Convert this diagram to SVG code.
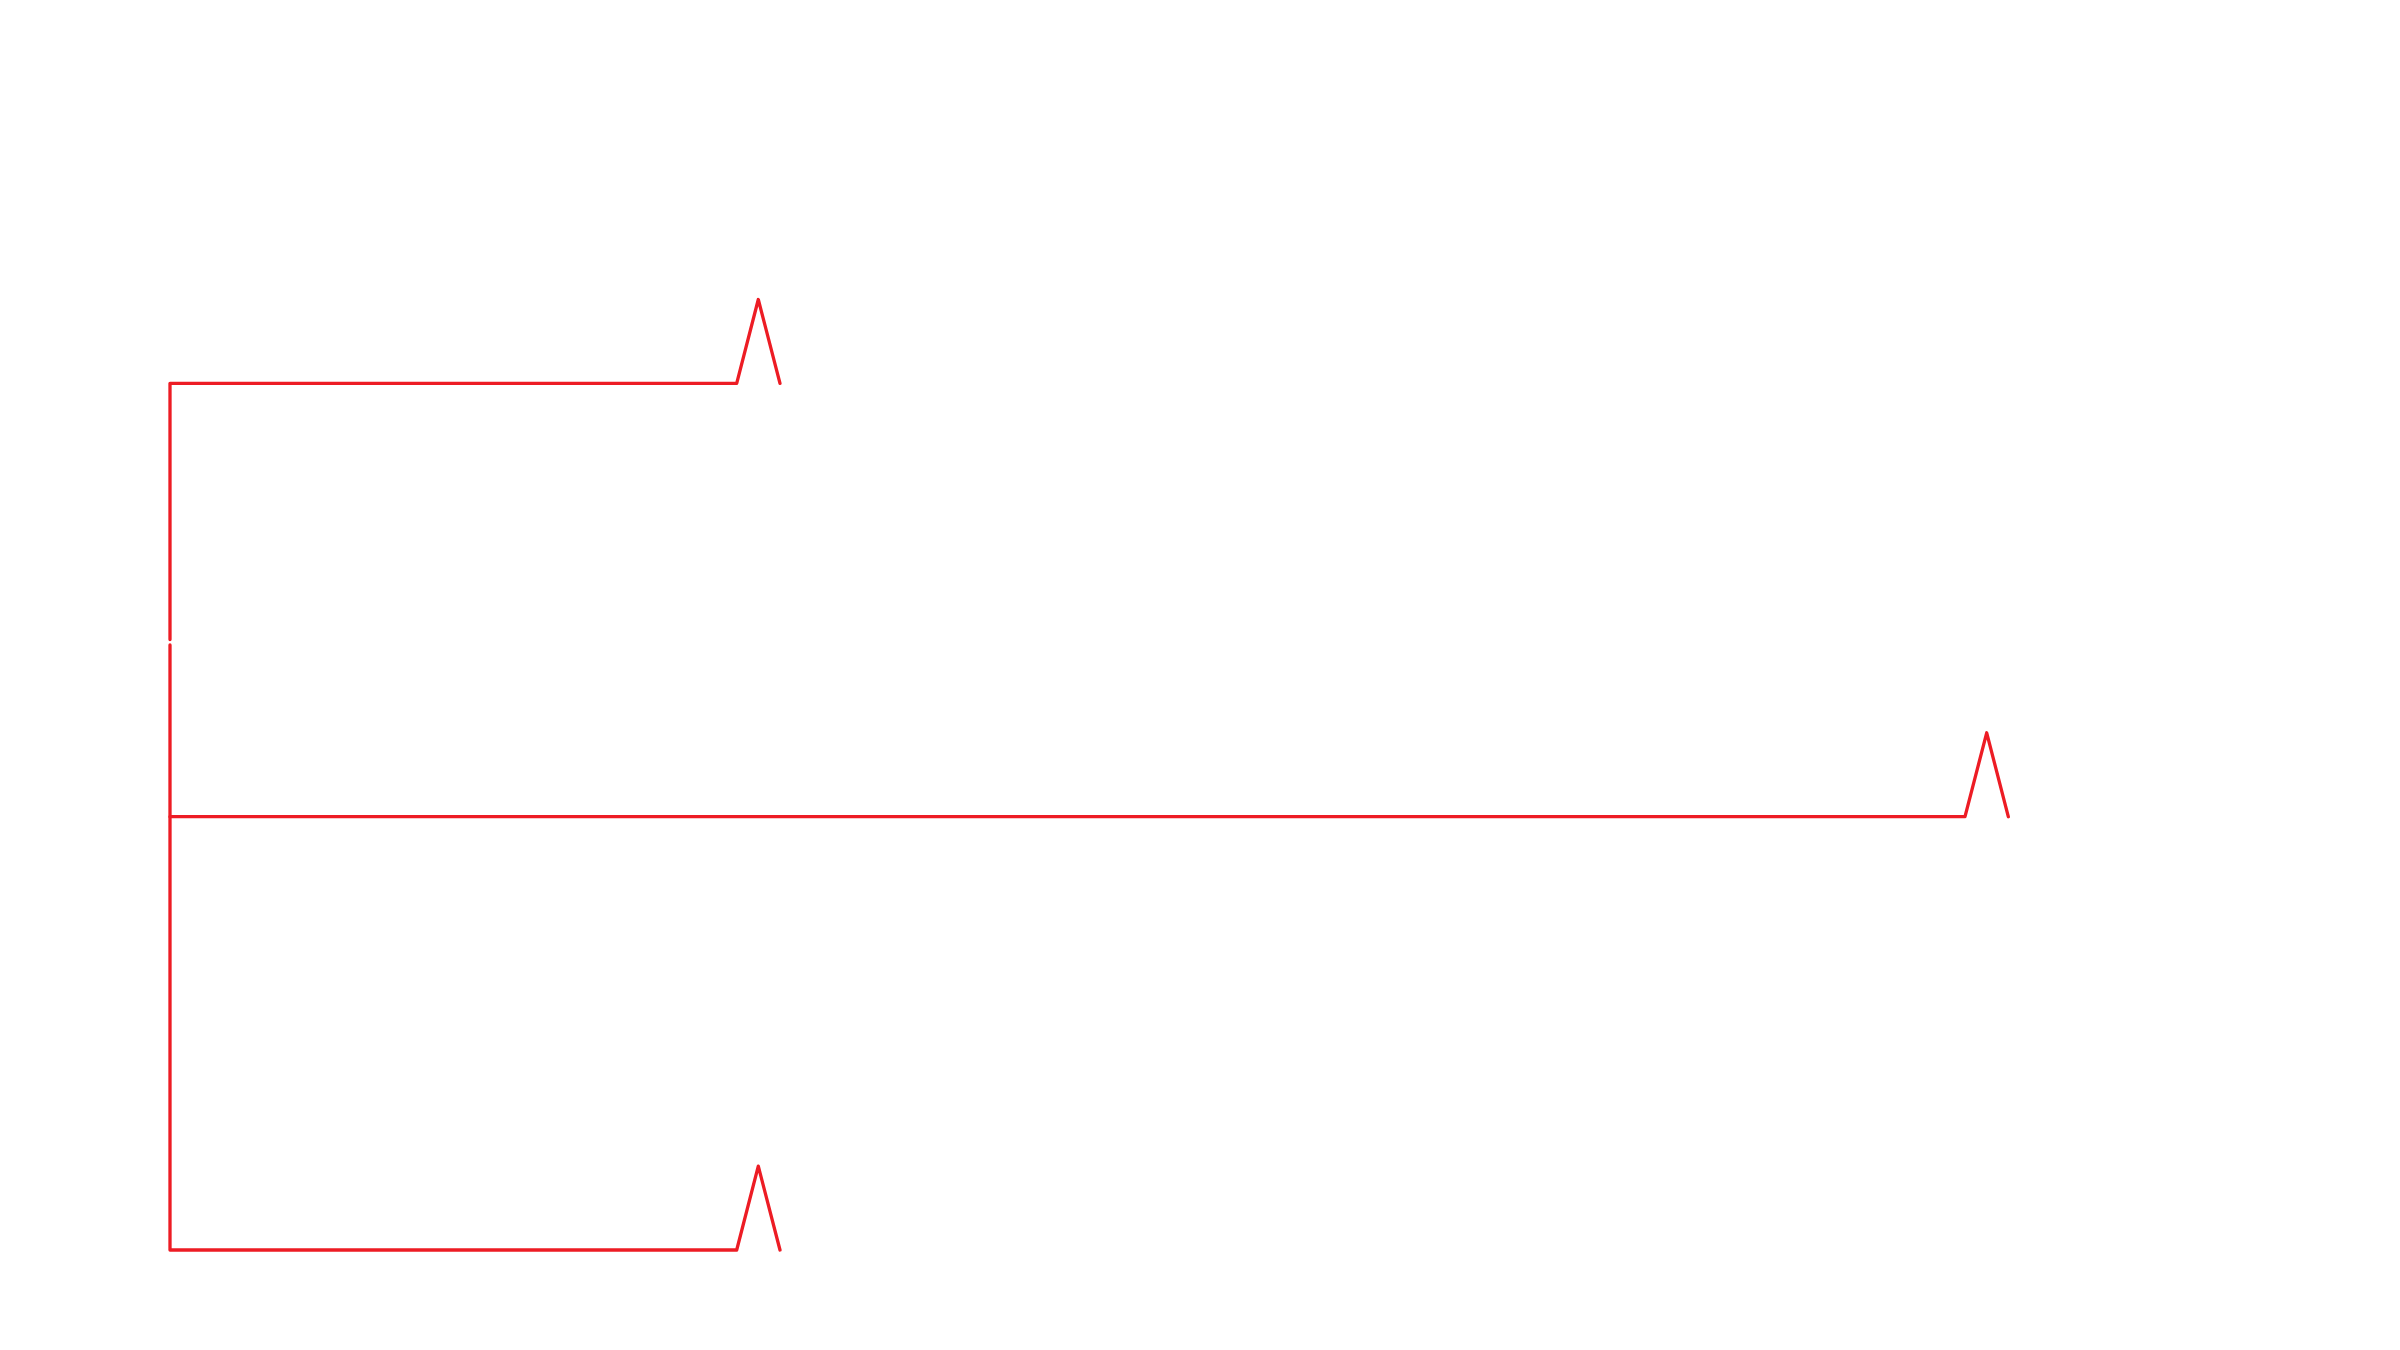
<svg xmlns="http://www.w3.org/2000/svg" width="2400" height="1350" viewBox="0 0 2400 1350">
<style>
.c{fill:none;stroke:#ED1C24;stroke-width:3.3;stroke-linecap:round;stroke-linejoin:round}
</style>
<rect width="2400" height="1350" fill="#FFFFFF"/>
<g id="connectors">
<path class="c" d="M170,639.5 V383.3 H736.7 L758.3,299.5 L780,383.3"/>
<path class="c" d="M170,645 V1250 H736.7 L758.3,1166.2 L780,1250"/>
<path class="c" d="M170,816.7 H1965 L1986.7,732.8 L2008.3,816.7"/>
</g>
</svg>
